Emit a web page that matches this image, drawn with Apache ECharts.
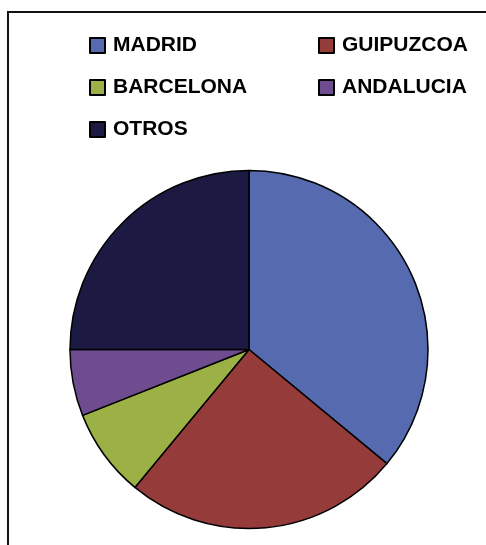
<!DOCTYPE html>
<html>
<head>
<meta charset="utf-8">
<script src="https://cdn.jsdelivr.net/npm/echarts@6/dist/echarts.min.js"></script>
<style>
html,body{margin:0;padding:0;background:#fff;}
#main{width:486px;height:545px;}
</style>
</head>
<body>
<div id="main"></div>
<script>
const categories = ['MADRID', 'GUIPUZCOA', 'BARCELONA', 'ANDALUCIA', 'OTROS'];
const values = [36, 25, 8, 6, 25];
const colors = ['#556AAF', '#953C3B', '#9CB145', '#6E4C8F', '#1C1A43'];
const legendCol1 = ['MADRID', 'BARCELONA', 'OTROS'];
const legendCol2 = ['GUIPUZCOA', 'ANDALUCIA'];

const chart = echarts.init(document.getElementById('main'), null, {renderer: 'canvas'});
const legendText = {
  fontFamily: 'Liberation Sans, Arial, sans-serif',
  fontWeight: 'bold',
  fontSize: 21,
  color: '#000',
  padding: [0, 0, 0, 3]
};
chart.setOption({
  animation: false,
  backgroundColor: '#fff',
  color: colors,
  legend: [
    {
      data: legendCol1, orient: 'vertical', left: 89, top: 35,
      itemWidth: 15, itemHeight: 15, itemGap: 21, icon: 'rect',
      padding: 0, textStyle: legendText, selectedMode: false
    },
    {
      data: legendCol2, orient: 'vertical', left: 318, top: 35,
      itemWidth: 15, itemHeight: 15, itemGap: 21, icon: 'rect',
      padding: 0, textStyle: legendText, selectedMode: false
    }
  ],
  graphic: [
    {type: 'line', shape: {x1: 8, y1: 12, x2: 8, y2: 545}, style: {stroke: '#111', lineWidth: 2}},
    {type: 'line', shape: {x1: 7, y1: 12, x2: 486, y2: 12}, style: {stroke: '#111', lineWidth: 2}}
  ],
  series: [{
    type: 'pie',
    center: [249, 349.5],
    radius: 179,
    startAngle: 90,
    clockwise: true,
    label: {show: false},
    labelLine: {show: false},
    emphasis: {disabled: true},
    itemStyle: {borderColor: '#000', borderWidth: 1.5},
    data: categories.map((c, i) => ({name: c, value: values[i]}))
  }]
});
</script>
</body>
</html>
